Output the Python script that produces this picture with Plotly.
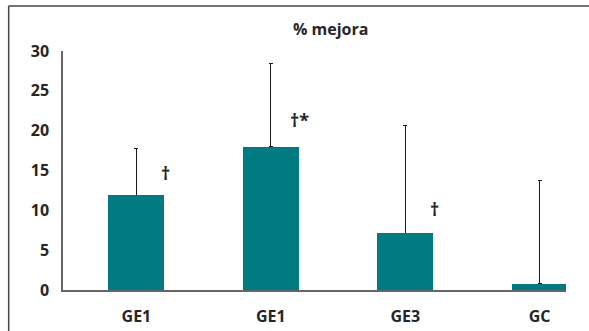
import plotly.graph_objects as go

# Group labels, mean improvement (%) and upper error (SD)
groups = ["GE1", "GE1", "GE3", "GC"]
mejora = [11.9, 18.0, 7.1, 0.75]
error_sup = [5.9, 10.4, 13.5, 13.05]

# Significance marks and the height at which each is written
marcas = ["†", "†*", "†", ""]
marca_y = [14.7, 21.3, 10.2, None]

y_ticks = [0, 5, 10, 15, 20, 25, 30]

pos = list(range(len(groups)))
teal = "#007B82"
ink = "#262626"
font_family = "'Open Sans', 'Noto Sans', sans-serif"
label_font = dict(family=font_family, size=16, color=ink, weight="bold")

fig = go.Figure()
# Upper error whiskers
fig.add_trace(go.Bar(
    x=pos,
    y=mejora,
    width=0.417,
    marker=dict(color=teal, line=dict(width=0)),
    error_y=dict(
        type="data",
        symmetric=False,
        array=error_sup,
        arrayminus=[0] * len(groups),
        color="#1a1a1a",
        thickness=1.1,
        width=2,
    ),
    showlegend=False,
    hoverinfo="skip",
))
# Bars drawn again on top so only the upper whisker shows
fig.add_trace(go.Bar(
    x=pos,
    y=mejora,
    width=0.417,
    marker=dict(color=teal, line=dict(width=0)),
    showlegend=False,
))

for x, m, y in zip(pos, marcas, marca_y):
    if m:
        fig.add_annotation(
            x=x, y=y, text=m, showarrow=False, xshift=29,
            xanchor="center", yanchor="middle",
            font=dict(family=font_family, size=18, color=ink, weight="bold"),
        )

fig.add_annotation(
    xref="paper", yref="paper", x=0.531, y=1.092,
    text="% mejora", showarrow=False,
    xanchor="center", yanchor="middle",
    font=label_font,
)

# Outer frame: left and top edges
fig.add_shape(type="line", xref="paper", yref="paper",
              x0=-0.108, x1=-0.108, y0=-0.2, y1=1.188,
              line=dict(color="#444444", width=1.5))
fig.add_shape(type="line", xref="paper", yref="paper",
              x0=-0.108, x1=1.1, y0=1.188, y1=1.188,
              line=dict(color="#444444", width=1.5))

fig.update_layout(
    width=589,
    height=331,
    margin=dict(l=63, r=23, t=51, b=41),
    paper_bgcolor="white",
    plot_bgcolor="white",
    font=dict(family=font_family, color=ink),
    barmode="overlay",
    bargap=0,
)
fig.update_xaxes(
    range=[-0.546, 3.196],
    tickvals=pos,
    ticktext=groups,
    showgrid=False,
    zeroline=False,
    showline=True,
    linecolor="#666666",
    linewidth=1.5,
    ticks="",
    ticklabelstandoff=11,
    automargin=False,
    tickfont=label_font,
)
fig.update_yaxes(
    range=[0, 30],
    tickvals=y_ticks,
    showgrid=False,
    zeroline=False,
    showline=True,
    linecolor="#666666",
    linewidth=1.5,
    ticks="",
    ticklabelstandoff=9,
    automargin=False,
    tickfont=label_font,
)

fig.write_html("out.html")
